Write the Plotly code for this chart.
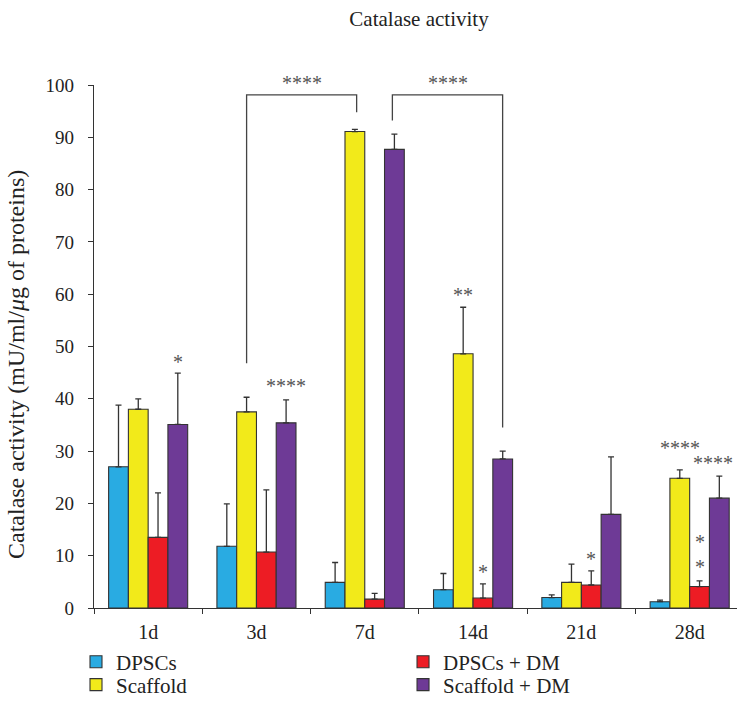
import plotly.graph_objects as go

categories = ["1d", "3d", "7d", "14d", "21d", "28d"]

dpscs = [27.0, 11.8, 4.9, 3.5, 2.0, 1.2]
dpscs_err = [11.8, 8.1, 3.8, 3.1, 0.5, 0.3]

scaffold = [38.0, 37.5, 91.1, 48.6, 4.9, 24.8]
scaffold_err = [2.0, 2.8, 0.4, 8.9, 3.5, 1.6]

dpscs_dm = [13.5, 10.7, 1.7, 1.9, 4.4, 4.1]
dpscs_dm_err = [8.5, 11.9, 1.1, 2.7, 2.7, 1.1]

scaffold_dm = [35.1, 35.4, 87.7, 28.5, 17.9, 21.0]
scaffold_dm_err = [9.8, 4.4, 2.9, 1.5, 11.0, 4.2]

series_names = ["DPSCs", "Scaffold", "DPSCs + DM", "Scaffold + DM"]
colors = ["#29ABE2", "#F2EA1A", "#ED1C24", "#6E3A96"]
legend_ids = ["legend", "legend2", "legend3", "legend4"]

FONT = "Liberation Serif"
TXT = "#222222"

fig = go.Figure()
for name, vals, errs, col, lg in zip(
    series_names,
    [dpscs, scaffold, dpscs_dm, scaffold_dm],
    [dpscs_err, scaffold_err, dpscs_dm_err, scaffold_dm_err],
    colors, legend_ids,
):
    fig.add_trace(go.Bar(
        name=name, x=categories, y=vals,
        marker=dict(color=col, line=dict(color="#333333", width=1.1)),
        error_y=dict(type="data", symmetric=False, array=errs,
                     arrayminus=[0] * len(errs), color="#333333",
                     thickness=1.3, width=3),
        legend=lg,
    ))

# significance marks: (category index, bar, value, text, x pixel shift)
OFF = {"DPSCs": -0.273, "Scaffold": -0.091, "DPSCs + DM": 0.091, "Scaffold + DM": 0.273}
stars = [
    (0, "Scaffold + DM", 47.9, "*", 0),
    (1, "Scaffold + DM", 43.3, "****", 0),
    (3, "Scaffold", 60.7, "**", 0),
    (3, "DPSCs + DM", 7.6, "*", 0),
    (4, "DPSCs + DM", 10.1, "*", 0),
    (5, "Scaffold", 31.4, "****", 0),
    (5, "Scaffold + DM", 28.5, "****", -6),
    (5, "DPSCs + DM", 13.4, "*", 0),
    (5, "DPSCs + DM", 8.6, "*", 0),
]
star_font = dict(family=FONT, size=20, color="#555555")
for idx, ser, val, txt, xs in stars:
    fig.add_annotation(x=idx + OFF[ser], y=val - 0.8, xref="x", yref="y",
                       text=txt, showarrow=False, font=star_font,
                       xanchor="center", yanchor="middle", xshift=xs)

# brackets
brackets = [
    # (x_left, y_left_bottom, x_right, y_right_bottom, y_top)
    (1 + OFF["Scaffold"], 46.8, 1.925, 94.8, 98.1),
    (2.255, 93.2, 3 + OFF["Scaffold + DM"], 34.5, 98.1),
]
for xl, yl, xr, yr, yt in brackets:
    fig.add_shape(type="path", xref="x", yref="y",
                  path=f"M {xl},{yl} L {xl},{yt} L {xr},{yt} L {xr},{yr}",
                  line=dict(color="#444444", width=1.3))
    fig.add_annotation(x=(xl + xr) / 2, y=yt, xref="x", yref="y",
                       text="****", showarrow=False, font=star_font,
                       xanchor="center", yanchor="middle", yshift=12)

# y axis title
fig.add_annotation(x=-0.1213, y=0.4646, xref="paper", yref="paper",
                   text="Catalase activity (mU/ml/<i>μ</i>g of proteins)",
                   textangle=-90, showarrow=False,
                   font=dict(family=FONT, size=24, color=TXT),
                   xanchor="center", yanchor="middle")

leg_common = dict(xanchor="left", yanchor="middle", orientation="v",
                  itemwidth=30, font=dict(family=FONT, size=21, color=TXT),
                  bgcolor="rgba(0,0,0,0)")
lx1, lx2 = -0.028, 0.4806
ly1, ly2 = -0.1033, -0.1472

fig.update_layout(
    width=737, height=703,
    margin=dict(l=94, r=0, t=85, b=95, autoexpand=False),
    paper_bgcolor="white", plot_bgcolor="white",
    font=dict(family=FONT, size=20, color=TXT),
    title=dict(text="Catalase activity", x=419 / 737, y=1 - 19 / 703,
               xanchor="center", yanchor="middle", xref="container",
               yref="container", font=dict(family=FONT, size=21, color=TXT)),
    barmode="group", bargap=0.27, bargroupgap=0,
    xaxis=dict(range=[-0.5, 5.437], showline=True, linecolor="#333333",
               linewidth=1.3, ticks="outside", ticklen=5, tickcolor="#333333",
               tickson="boundaries", showgrid=False, ticklabelstandoff=6,
               tickfont=dict(family=FONT, size=20, color=TXT)),
    yaxis=dict(range=[0, 100], dtick=10, showline=True, linecolor="#333333",
               linewidth=1.3, ticks="outside", ticklen=5, tickcolor="#333333",
               showgrid=False, zeroline=False, ticklabelstandoff=10,
               tickfont=dict(family=FONT, size=19, color=TXT)),
    legend=dict(x=lx1, y=ly1, **leg_common),
    legend2=dict(x=lx1, y=ly2, **leg_common),
    legend3=dict(x=lx2, y=ly1, **leg_common),
    legend4=dict(x=lx2, y=ly2, **leg_common),
    showlegend=True,
)

fig.write_html("out.html",
               config={"displayModeBar": False},
               post_script="document.body.style.margin='0';"
                           "document.body.style.overflow='hidden';")
